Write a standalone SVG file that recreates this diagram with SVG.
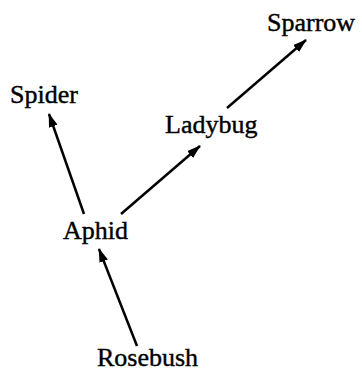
<svg xmlns="http://www.w3.org/2000/svg" width="362" height="372" viewBox="0 0 362 372">
<defs>
<style>
text{font-family:"Liberation Serif","Times New Roman",serif;font-size:26px;fill:#000;stroke:#000;stroke-width:0.4}
.e{stroke:#000;stroke-width:2.5;fill:none;marker-end:url(#ah)}
</style>
<marker id="ah" viewBox="0 0 14 9" refX="13" refY="4.5" markerWidth="14" markerHeight="9" markerUnits="userSpaceOnUse" orient="auto">
<path d="M0,0 L14,4.5 L0,9 z" fill="#000"/>
</marker>
</defs>
<rect width="362" height="372" fill="#fff"/>
<g id="connectors">
<line class="e" x1="137" y1="346" x2="99" y2="249"/>
<line class="e" x1="84" y1="214" x2="49" y2="114"/>
<line class="e" x1="121" y1="214" x2="200" y2="146"/>
<line class="e" x1="227" y1="108" x2="306" y2="40"/>
</g>
<g id="sparrow"><text x="267" y="31">Sparrow</text></g>
<g id="spider"><text x="10" y="103">Spider</text></g>
<g id="ladybug"><text x="165" y="133">Ladybug</text></g>
<g id="aphid"><text x="63" y="239">Aphid</text></g>
<g id="rosebush"><text x="97" y="366">Rosebush</text></g>
</svg>
